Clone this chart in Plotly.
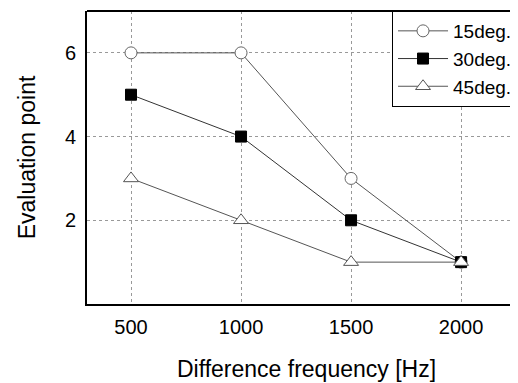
import plotly.graph_objects as go

freq = [500, 1000, 1500, 2000]
s15 = [6, 6, 3, 1]
s30 = [5, 4, 2, 1]
s45 = [3, 2, 1, 1]
names = ["15deg.", "30deg.", "45deg."]

fig = go.Figure()
fig.add_trace(go.Scatter(x=freq, y=s15, name=names[0], mode="lines+markers",
                         line=dict(color="#555555", width=1),
                         marker=dict(symbol="circle", size=12, color="white",
                                     line=dict(color="#666666", width=1))))
fig.add_trace(go.Scatter(x=freq, y=s30, name=names[1], mode="lines+markers",
                         line=dict(color="#333333", width=1),
                         marker=dict(symbol="square", size=11, color="black",
                                     line=dict(color="black", width=1))))
fig.add_trace(go.Scatter(x=freq, y=s45, name=names[2], mode="lines+markers",
                         line=dict(color="#555555", width=1),
                         marker=dict(symbol="triangle-up", size=13, color="white",
                                     line=dict(color="#555555", width=1))))

fig.update_layout(
    width=518, height=383,
    margin=dict(l=79, r=0, t=3, b=87),
    paper_bgcolor="white", plot_bgcolor="white",
    font=dict(family="Liberation Sans, Arial, sans-serif", size=20, color="black"),
    showlegend=True,
    legend=dict(x=0.6948, y=1, xanchor="left", yanchor="top",
                bordercolor="black", borderwidth=1, bgcolor="white",
                font=dict(size=19), itemwidth=50, tracegroupgap=0),
    xaxis=dict(range=[300, 2295], tickvals=freq, ticks="", automargin=False,
               showgrid=True, gridcolor="#999999", griddash="dot", gridwidth=1,
               showline=True, linecolor="black", linewidth=2, mirror=False,
               zeroline=False, tickfont=dict(size=20), ticklabelstandoff=4,
               title=dict(text="Difference frequency [Hz]", font=dict(size=23), standoff=24)),
    yaxis=dict(range=[0, 7], tickvals=[2, 4, 6], ticks="", automargin=False,
               showgrid=True, gridcolor="#999999", griddash="dot", gridwidth=1,
               showline=True, linecolor="black", linewidth=2, mirror=False,
               zeroline=False, tickfont=dict(size=20), ticklabelstandoff=5,
               title=dict(text="Evaluation point", font=dict(size=23), standoff=23)),
    shapes=[dict(type="line", xref="paper", yref="paper", x0=0, x1=1, y0=1, y1=1,
                 line=dict(color="black", width=2))],
)
fig.write_html("out.html")
